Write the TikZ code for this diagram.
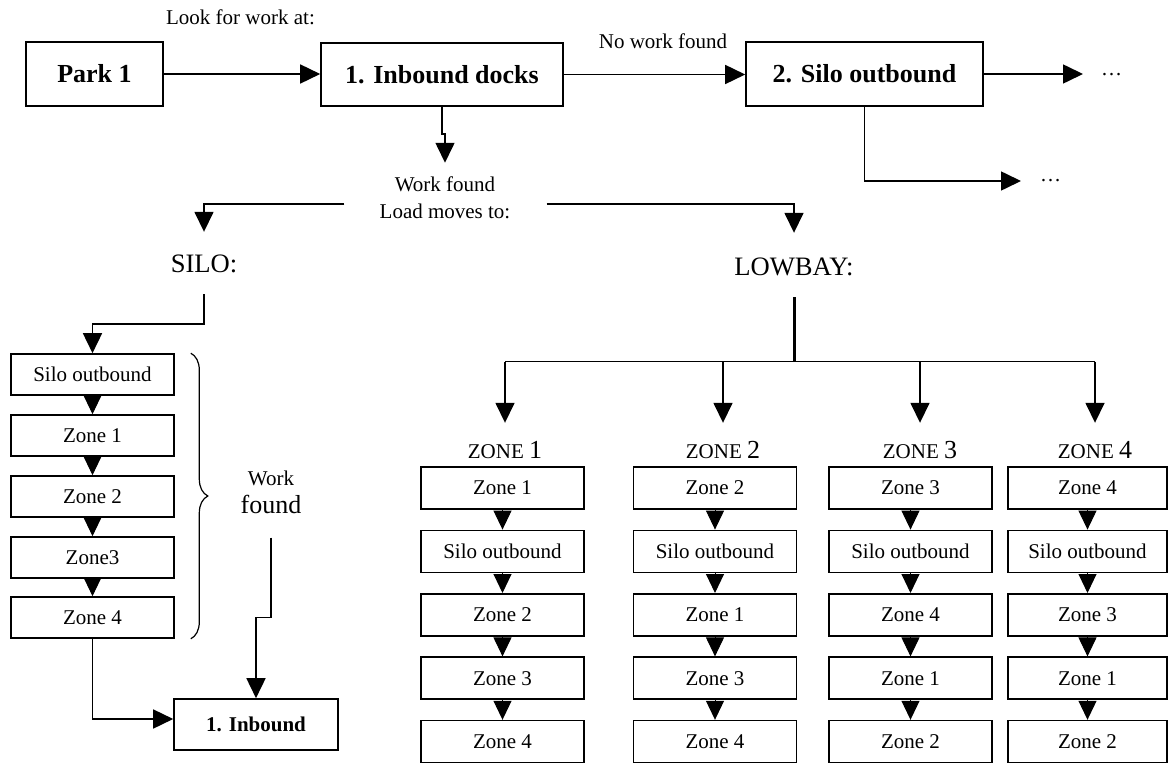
\documentclass[tikz,border=0pt]{standalone}
\usepackage{fontspec}
\setmainfont{Liberation Serif}
\usetikzlibrary{arrows.meta,decorations.pathreplacing,calc}
\begin{document}
\begin{tikzpicture}[x=1pt,y=-1pt,
  fs/.style={font=\fontsize{21}{25}\selectfont},
  big/.style={font=\bfseries\fontsize{26}{30}\selectfont},
  box/.style={draw, line width=1.6pt, inner sep=0pt, align=center},
  topbox/.style={box, big, minimum height=64pt},
  zbox/.style={box, fs, minimum height=42pt},
  sbox/.style={box, fs, minimum width=163pt, minimum height=41pt},
  arr/.style={line width=1.6pt, -{Triangle[length=20pt,width=19pt]}},
  tri/.style={line width=1pt, -{Triangle[length=19pt,width=18pt]}},
  lg/.style={font=\fontsize{26.6}{30}\selectfont, inner sep=0pt, text height=18pt, text depth=0pt, anchor=base},
  zl/.style={fs, anchor=base, inner sep=0pt, text height=18pt, text depth=0pt},
  dots/.style={fs, inner sep=0pt, anchor=west}
]
\useasboundingbox (0,0) rectangle (1168,765);

% top row
\node[topbox, minimum width=137pt] (park) at (94.5,74) {Park 1};
\node[topbox, minimum width=242pt, minimum height=63pt] (inb) at (442,74.5) {1. Inbound docks};
\node[topbox, minimum width=237pt] (silo) at (864.5,74) {2. Silo outbound};
\node[fs] (look) at (240.5,17) {Look for work at:};
\node[fs] (nowork) at (663,41) {No work found};
\node[dots] (d1) at (1101,75) {…};
\node[dots] (d2) at (1040,181) {…};

\draw[arr] (park.east) -- (park.east -| inb.west);
\draw[arr] (inb.east) -- (inb.east -| silo.west);
\draw[arr, shorten >=18pt] (silo.east) -- (silo.east -| d1.west);
\draw[arr, shorten >=19pt] (silo.south) |- (d2.west);

% work found
\node[font=\fontsize{21}{27}\selectfont, align=center, inner sep=0pt] (wf) at (445,198) {Work found\\Load moves to:};
\draw[arr] (inb.south) -- ++(0,27) -| ([yshift=14pt]wf.north);

\node[lg] (silol) at (204,272) {SILO:};
\node[lg] (lowl) at (794,275) {LOWBAY:};
\draw[arr] ([shift={(-35,6)}]wf.west) -| ([yshift=22pt]silol.north);
\draw[arr] ([shift={(36,6)}]wf.east) -| ([yshift=24pt]lowl.north);

% silo chain
\node[sbox] (s1) at (92.5,374.5) {Silo outbound};
\node[sbox] (s2) at (92.5,435.5) {Zone 1};
\node[sbox] (s3) at (92.5,496.5) {Zone 2};
\node[sbox] (s4) at (92.5,557.5) {Zone3};
\node[sbox] (s5) at (92.5,617.5) {Zone 4};
\draw[arr] ([yshift=-22pt]silol.south) -- ++(0,30) -| (s1.north);
\draw[tri] (s1) -- (s2);
\draw[tri] (s2) -- (s3);
\draw[tri] (s3) -- (s4);
\draw[tri] (s4) -- (s5);
\draw[line width=1.2pt, decorate, decoration={brace, amplitude=17pt}]
  ([xshift=16pt]s1.north east) -- ([xshift=16pt]s5.south east);

\node[font=\fontsize{26}{28}\selectfont, align=center, inner sep=0pt] (wf2) at (271,492)
  {{\fontsize{21}{24}\selectfont Work}\\found};
\node[box, font=\bfseries\fontsize{21}{24}\selectfont, minimum width=164pt, minimum height=51pt] (inb2) at (256,724.5) {1. Inbound};
\draw[arr] ([yshift=-24pt]wf2.south) -- ++(0,80) -| (inb2.north);
\draw[arr] (s5.south) |- ([yshift=5.5pt]inb2.west);

% lowbay
\coordinate (bar) at (794,361.5);
\draw[line width=3pt] ([yshift=-22pt]lowl.south) -- (bar);
\node[zl] (zl1) at (505,458) {ZONE {\fontsize{26}{30}\selectfont 1}};
\node[zl] (zl2) at (723,458) {ZONE {\fontsize{26}{30}\selectfont 2}};
\node[zl] (zl3) at (920,458) {ZONE {\fontsize{26}{30}\selectfont 3}};
\node[zl] (zl4) at (1095,458) {ZONE {\fontsize{26}{30}\selectfont 4}};
\draw[line width=1.6pt] (zl1.north |- bar) -- (zl4.north |- bar);
\foreach \i in {1,2,3,4} {
  \draw[arr, shorten >=17pt] (zl\i.north |- bar) -- (zl\i.north);
}

\foreach \c/\cx/\ww/\ta/\tb/\tc/\td in {1/502.5/163/1/2/3/4, 2/715/163/2/1/3/4, 3/910.5/163/3/4/1/2, 4/1087.5/159/4/3/1/2} {
  \node[zbox, minimum width=\ww pt] (z\c-a) at (\cx,488) {Zone \ta};
  \node[zbox, minimum width=\ww pt] (z\c-b) at (\cx,551.4) {Silo outbound};
  \node[zbox, minimum width=\ww pt] (z\c-c) at (\cx,614.8) {Zone \tb};
  \node[zbox, minimum width=\ww pt] (z\c-d) at (\cx,678.2) {Zone \tc};
  \node[zbox, minimum width=\ww pt] (z\c-e) at (\cx,741.6) {Zone \td};
  \draw[tri] (z\c-a) -- (z\c-b);
  \draw[tri] (z\c-b) -- (z\c-c);
  \draw[tri] (z\c-c) -- (z\c-d);
  \draw[tri] (z\c-d) -- (z\c-e);
}
\end{tikzpicture}
\end{document}
